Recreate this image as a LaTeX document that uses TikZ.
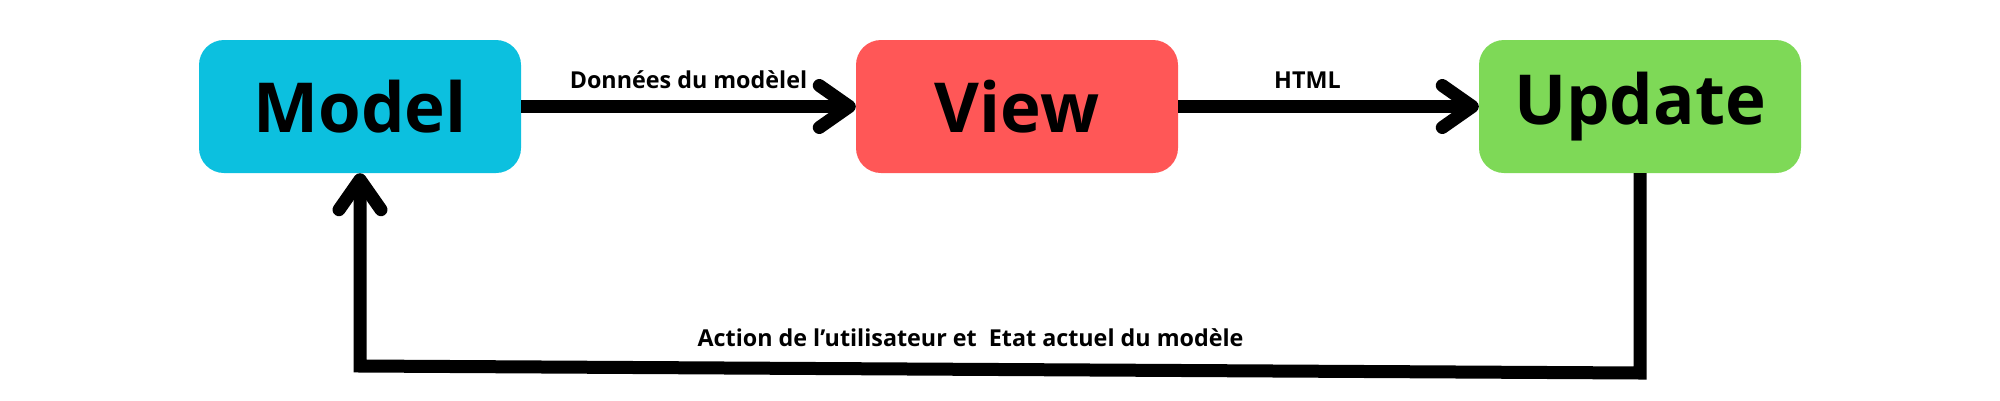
\documentclass[tikz,border=0pt]{standalone}
\usepackage{fontspec}
\setmainfont{Open Sans}
\usetikzlibrary{arrows.meta}
\definecolor{cmodel}{HTML}{0CC0DF}
\definecolor{cview}{HTML}{FF5757}
\definecolor{cupdate}{HTML}{7ED957}
\tikzset{
  box/.style={rounded corners=25pt, minimum width=322pt, minimum height=133pt, inner sep=0pt,
    font=\fontsize{69}{80}\selectfont\bfseries},
  conn/.style={line width=13pt, -{Straight Barb[length=30pt, width=42pt, round]}},
  lbl/.style={font=\fontsize{23.3}{26}\selectfont\bfseries, anchor=base, inner sep=0pt}
}
\begin{document}
\begin{tikzpicture}[x=1pt,y=-1pt]
\useasboundingbox (0,0) rectangle (2000,400);
\node[box, fill=cmodel] (model) at (360,106.5) {Model};
\node[box, fill=cview] (view) at (1017,106.5) {View};
\node[box, fill=cupdate] (update) at (1640,106.5) {Update};
\coordinate (c1) at (1640,373);
\coordinate (c2) at (360,366);
\draw[conn] (model.east) -- node[lbl, pos=0.5, yshift=18pt] {Données du modèlel} (view.west);
\draw[conn] (view.east) -- node[lbl, pos=0.43, yshift=18pt] {HTML} (update.west);
\draw[conn, line join=miter] (update.south) -- (c1) -- node[lbl, pos=0.523, yshift=23pt] {Action de l’utilisateur et \ Etat actuel du modèle} (c2) -- (model.south);
\end{tikzpicture}
\end{document}
